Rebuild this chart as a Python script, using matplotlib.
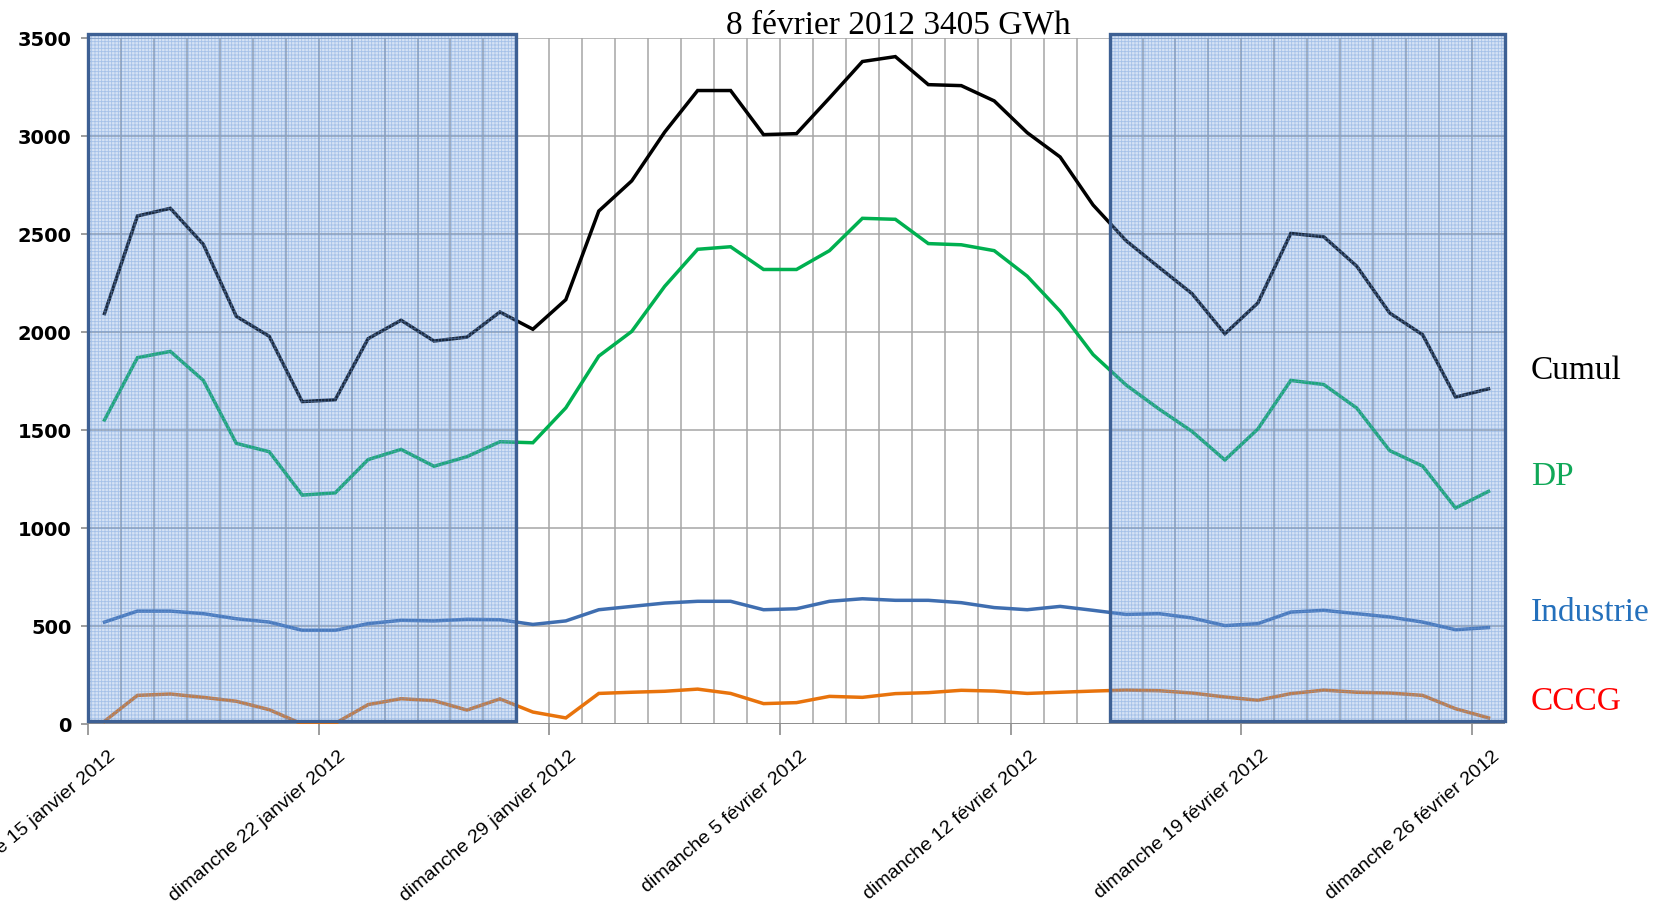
import matplotlib
matplotlib.use("Agg")
import matplotlib.pyplot as plt
import matplotlib.transforms as mtransforms
from matplotlib.patches import Rectangle

# ==========================================================
# Data (GWh per day, 15 janvier -> 26 fevrier 2012)
# ==========================================================
CUMUL = [2094, 2592, 2631, 2447, 2080, 1978, 1645, 1654, 1966, 2060,
         1954, 1974, 2102, 2014, 2165, 2617, 2771, 3020, 3232, 3232,
         3007, 3012, 3194, 3380, 3405, 3262, 3257, 3179, 3017, 2893,
         2648, 2466, 2330, 2196, 1991, 2148, 2503, 2486, 2336, 2097,
         1986, 1668, 1710]
DP = [1551, 1869, 1901, 1753, 1432, 1389, 1168, 1179, 1349, 1401,
      1315, 1364, 1440, 1435, 1613, 1877, 2003, 2233, 2422, 2435,
      2319, 2319, 2415, 2580, 2575, 2451, 2445, 2415, 2285, 2106,
      1885, 1730, 1607, 1493, 1347, 1505, 1753, 1732, 1612, 1395,
      1316, 1102, 1187]
INDUSTRIE = [520, 576, 576, 563, 537, 520, 478, 478, 512, 529,
             526, 534, 532, 508, 526, 583, 600, 617, 626, 626,
             583, 588, 626, 639, 631, 631, 619, 594, 583, 600,
             580, 559, 563, 541, 502, 512, 571, 580, 563, 546,
             520, 481, 492]
CCCG = [14, 146, 153, 136, 116, 73, 0, 3, 99, 129,
        119, 71, 128, 61, 31, 156, 162, 167, 178, 156,
        104, 109, 141, 136, 155, 160, 172, 168, 156, 162,
        168, 173, 170, 158, 138, 121, 155, 173, 162, 158,
        146, 78, 31]

TICK_LABELS = ["dimanche 15 janvier 2012", "dimanche 22 janvier 2012",
               "dimanche 29 janvier 2012", "dimanche 5 février 2012",
               "dimanche 12 février 2012", "dimanche 19 février 2012",
               "dimanche 26 février 2012"]
YTICKS = [0, 500, 1000, 1500, 2000, 2500, 3000, 3500]

# shaded periods (category index ranges)
SHADED = [(0, 12), (31, 42)]

SERIES = [
    (CUMUL,     "#000000"),
    (DP,        "#00B050"),
    (INDUSTRIE, "#3F6EB0"),
    (CCCG,      "#E8730C"),
]
RIGHT_LABELS = [("Cumul", "#000000", 371), ("DP", "#10A858", 477),
                ("Industrie", "#2470BC", 613), ("CCCG", "#FF0000", 702)]

# ==========================================================
# Figure
# ==========================================================
W, H = 1662, 905
fig = plt.figure(figsize=(W / 100, H / 100), dpi=100)
ax = fig.add_axes([88 / W, 1 - 724 / H, (1505 - 88) / W, (724 - 38) / H])

n = len(CUMUL)
x = list(range(n))

for vals, color in SERIES:
    ax.plot(x, vals, color=color, linewidth=2.5, zorder=3,
            solid_joinstyle="miter")

ax.set_xlim(-0.5, n - 0.5)
ax.set_ylim(0, 3500)

# grid: one vertical line per category boundary
for b in range(n + 1):
    ax.axvline(b - 0.5, color="#A6A6A6", linewidth=1.1, zorder=1)
for v in YTICKS:
    ax.axhline(v, color="#A6A6A6", linewidth=1.1, zorder=1)

for s in ["top", "right", "left", "bottom"]:
    ax.spines[s].set_visible(False)
ax.axhline(0, color="#8C8C8C", linewidth=1.3, zorder=2)
ax.axvline(-0.5, color="#8C8C8C", linewidth=1.3, zorder=2)

ax.set_yticks(YTICKS)
ax.set_yticklabels([str(v) for v in YTICKS], fontsize=14, fontweight="bold",
                   family="DejaVu Sans")
ax.tick_params(axis="y", length=5, width=1.2, color="#8C8C8C", pad=7)

major = [i * 7 - 0.5 for i in range(len(TICK_LABELS))]
ax.set_xticks(major)
ax.set_xticklabels(TICK_LABELS, rotation=40, ha="right", va="center",
                   rotation_mode="anchor", fontsize=14,
                   family="Liberation Sans")
ax.tick_params(axis="x", length=8, width=1.2, color="#8C8C8C", pad=0)
offset = mtransforms.ScaledTranslation(0.25, -0.19, fig.dpi_scale_trans)
for lab in ax.get_xticklabels():
    lab.set_transform(lab.get_transform() + offset)

# shaded "graph paper" periods, drawn over the lines
plt.rcParams["hatch.linewidth"] = 0.6
for a, b in SHADED:
    x0, x1 = a - 0.5, b + 0.5
    ax.add_patch(Rectangle((x0, 17), x1 - x0, 3503, facecolor="#6797DA",
                           alpha=0.27, edgecolor="none", zorder=4,
                           clip_on=False))
    ax.add_patch(Rectangle((x0, 17), x1 - x0, 3503, facecolor="none",
                           edgecolor=(0.42, 0.6, 0.86, 0.45), hatch="+++++",
                           linewidth=0, zorder=5, clip_on=False))
    ax.add_patch(Rectangle((x0, 17), x1 - x0, 3503, facecolor="none",
                           edgecolor="#3D6094", linewidth=2.4, zorder=6,
                           clip_on=False))

fig.text(898 / W, 1 - 25 / H, "8 février 2012 3405 GWh", ha="center",
         va="center", fontsize=24, family="Liberation Serif")

for txt, col, yy in RIGHT_LABELS:
    fig.text(1531 / W, 1 - yy / H, txt, ha="left", va="center",
             fontsize=24, color=col, family="Liberation Serif")

fig.savefig("out.png", dpi=100)
